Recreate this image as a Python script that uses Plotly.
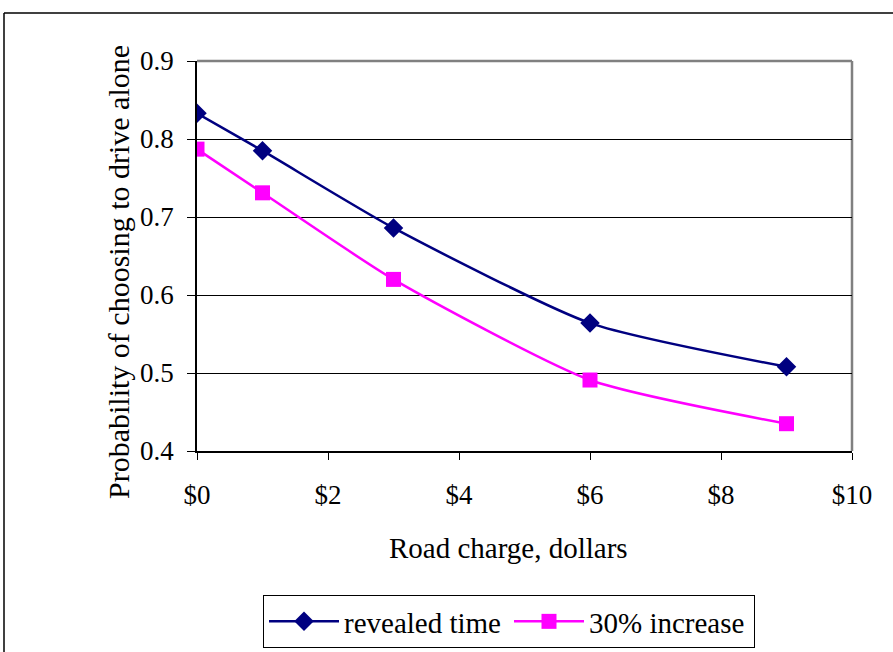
import plotly.graph_objects as go

charge = [0, 1, 3, 6, 9]
revealed_time = [0.833, 0.785, 0.686, 0.564, 0.508]
increase_30 = [0.787, 0.731, 0.620, 0.491, 0.435]
x_ticks = [0, 2, 4, 6, 8, 10]
x_tick_labels = ["$0", "$2", "$4", "$6", "$8", "$10"]
y_ticks = [0.4, 0.5, 0.6, 0.7, 0.8, 0.9]

W, H = 893, 652
L, R, T, B = 197, 41, 61, 201
pw, ph = W - L - R, H - T - B

font = "Liberation Serif, Times New Roman, serif"
TS = 27   # tick font size
LS = 29   # title / legend font size

fig = go.Figure()
fig.add_trace(go.Scatter(
    x=charge, y=revealed_time, name="revealed time", mode="lines+markers",
    line=dict(color="#000080", width=2.5, shape="spline", smoothing=0.6),
    marker=dict(symbol="diamond", size=15, color="#000080"),
))
fig.add_trace(go.Scatter(
    x=charge, y=increase_30, name="30% increase", mode="lines+markers",
    line=dict(color="#FF00FF", width=2.5, shape="spline", smoothing=0.6),
    marker=dict(symbol="square", size=15, color="#FF00FF"),
))

fig.update_layout(
    width=W, height=H,
    margin=dict(l=L, r=R, t=T, b=B, autoexpand=False),
    paper_bgcolor="white", plot_bgcolor="white",
    font=dict(family=font, size=LS, color="black"),
    showlegend=True,
    legend=dict(
        orientation="h", x=(263 - L) / pw, y=(H - B - 595) / ph,
        xanchor="left", yanchor="top",
        bordercolor="black", borderwidth=1,
        font=dict(family=font, size=LS),
        itemwidth=70,
        entrywidth=160, entrywidthmode="pixels",
    ),
    xaxis=dict(
        range=[0, 10], tickmode="array", tickvals=x_ticks, ticktext=x_tick_labels,
        showgrid=False, zeroline=False, automargin=False,
        showline=True, linecolor="black", linewidth=1.5,
        ticks="outside", ticklen=7, tickcolor="black",
        tickfont=dict(family=font, size=TS),
        ticklabelstandoff=12,
    ),
    yaxis=dict(
        range=[0.4, 0.9], tickvals=y_ticks, tickformat=".1f",
        showgrid=True, gridcolor="black", gridwidth=1,
        zeroline=False, automargin=False,
        showline=True, linecolor="black", linewidth=1.5,
        ticks="outside", ticklen=8, tickcolor="black",
        tickfont=dict(family=font, size=TS),
        ticklabelstandoff=8,
    ),
    annotations=[
        dict(text="Road charge, dollars", xref="paper", yref="paper",
             x=(508 - L) / pw, y=(H - B - 548) / ph, xanchor="center", yanchor="middle",
             showarrow=False, font=dict(family=font, size=LS)),
        dict(text="Probability of choosing to drive alone", xref="paper", yref="paper",
             x=(118 - L) / pw, y=(H - B - 272) / ph, xanchor="center", yanchor="middle",
             textangle=-90, showarrow=False, font=dict(family=font, size=30)),
    ],
    shapes=[
        dict(type="line", xref="paper", yref="paper", x0=0, x1=1, y0=1, y1=1,
             line=dict(color="#808080", width=2.5), layer="below"),
        dict(type="line", xref="paper", yref="paper", x0=1, x1=1, y0=0, y1=1,
             line=dict(color="#808080", width=2.5), layer="below"),
        dict(type="line", xref="paper", yref="paper",
             x0=(4 - L) / pw, x1=(W + 10 - L) / pw, y0=(H - B - 13) / ph, y1=(H - B - 13) / ph,
             line=dict(color="black", width=1.5)),
        dict(type="line", xref="paper", yref="paper",
             x0=(4 - L) / pw, x1=(4 - L) / pw, y0=(H - B - 13) / ph, y1=(H - B - H - 10) / ph,
             line=dict(color="black", width=1.5)),
    ],
)

fig.write_html("out.html")
